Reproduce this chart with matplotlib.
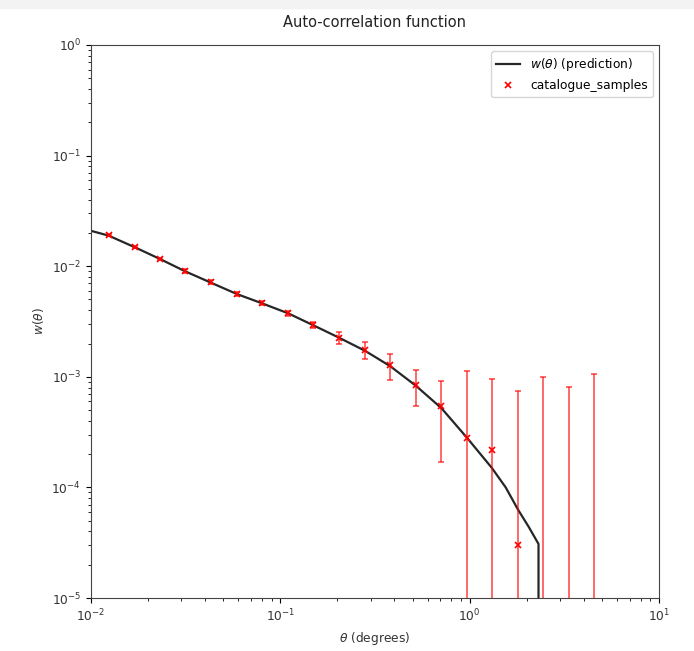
import matplotlib
matplotlib.use('Agg')
import matplotlib.pyplot as plt
import numpy as np
from matplotlib.patches import Rectangle

# catalogue samples (bin centres, w(theta), 1-sigma error)
theta_samples = [0.0124, 0.0171, 0.0232, 0.0314, 0.043, 0.059, 0.080, 0.110, 0.149, 0.204,
                 0.28, 0.38, 0.52, 0.71, 0.97, 1.31, 1.80, 2.44, 3.35, 4.54]
w_samples = [0.0191, 0.0149, 0.0116, 0.00906, 0.0072, 0.0056, 0.00465, 0.00377, 0.00294, 0.00226,
             0.00175, 0.00128, 0.00085, 0.00054, 0.00028, 0.000216, 0.00003, -0.0001, -0.0002, -0.00005]
w_err = [0.0003, 0.0003, 0.0003, 0.0003, 0.0003, 0.0002, 0.0002, 0.0002, 0.0002, 0.0003,
         0.0003, 0.00034, 0.0003, 0.00037, 0.00084, 0.00073, 0.00071, 0.00109, 0.00101, 0.00112]

# model prediction
theta_pred = [0.01, 0.0124, 0.0171, 0.0232, 0.0314, 0.043, 0.059, 0.080, 0.110, 0.149, 0.204,
              0.28, 0.38, 0.52, 0.71, 0.97, 1.31, 1.55, 1.80, 2.05, 2.31, 2.32]
w_pred = [0.0209, 0.0189, 0.0148, 0.0116, 0.0090, 0.0071, 0.0056, 0.00462, 0.00375, 0.00293, 0.00226,
          0.00172, 0.00125, 0.00083, 0.00052, 0.00028, 0.000150, 0.000100, 0.000063, 0.000044,
          0.0000308, -0.0001]


def main():
    fig = plt.figure(figsize=(6.94, 6.51), dpi=100)
    ax = fig.add_axes([0.131, 0.0814, 0.8186, 0.8495])
    fig.add_artist(Rectangle((0, 0.988), 1, 0.012, transform=fig.transFigure,
                             color='#f3f3f3', zorder=-1))

    ax.set_xscale('log')
    ax.set_yscale('log')

    ax.plot(theta_pred, w_pred, color='k', lw=1.6, alpha=0.85, label=r'$w(\theta)$ (prediction)')
    ax.errorbar(theta_samples, w_samples, yerr=w_err, fmt='none', ecolor='red', elinewidth=1.1,
                capsize=2.5, capthick=1.1, alpha=0.75)
    ax.plot(theta_samples, w_samples, 'x', color='red', ms=5, mew=1.2, ls='none',
            label='catalogue_samples')

    ax.set_xlim(1e-2, 1e1)
    ax.set_ylim(1e-5, 1e0)
    ax.set_title('Auto-correlation function', fontsize=10.5, color='#222222', pad=13)
    ax.set_xlabel(r'$\theta$ (degrees)', fontsize=8.8, color='#333333')
    ax.set_ylabel(r'$w(\theta)$', fontsize=8.8, color='#333333')
    ax.tick_params(labelsize=8.8, labelcolor='#333333')
    for s in ax.spines.values():
        s.set_color('#444444')
    ax.legend(loc='upper right', fontsize=8.8)

    fig.savefig('out.png', dpi=100)


if __name__ == '__main__':
    main()
